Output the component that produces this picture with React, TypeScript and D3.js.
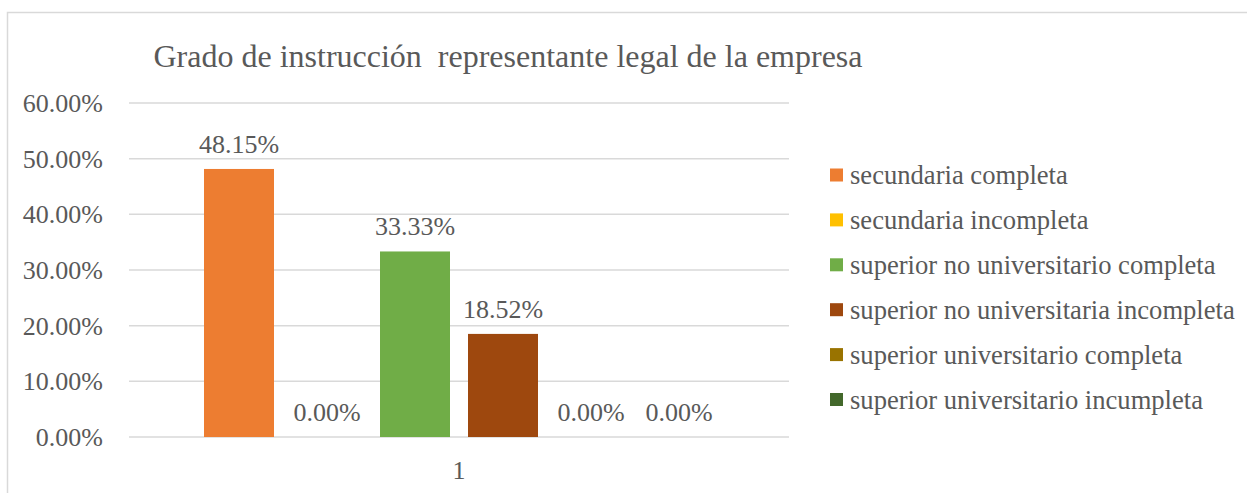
import React, { useEffect, useRef } from "react";
import * as d3 from "d3";

const categories = ["1"];
const seriesNames = [
  "secundaria completa",
  "secundaria incompleta",
  "superior no universitario completa",
  "superior no universitaria incompleta",
  "superior universitario completa",
  "superior universitario incumpleta",
];
const seriesValues = [0.4815, 0.0, 0.3333, 0.1852, 0.0, 0.0];
const seriesColors = ["#ED7D31", "#FFC000", "#70AD47", "#9E480E", "#997300", "#43682B"];
const yTicks = [0, 0.1, 0.2, 0.3, 0.4, 0.5, 0.6];
const title = "Grado de instrucción  representante legal de la empresa";

const W = 1247;
const H = 493;
const FONT = "'Liberation Serif', 'Times New Roman', serif";
const TEXT = "#595959";

export default function App() {
  const ref = useRef<SVGSVGElement>(null);

  useEffect(() => {
    const svg = d3.select(ref.current);
    svg.selectAll("*").remove();

    svg.append("rect")
      .attr("x", 7.5).attr("y", 12.5)
      .attr("width", W + 20).attr("height", H + 20)
      .attr("fill", "#fff").attr("stroke", "#D9D9D9").attr("stroke-width", 1.5);

    const plotL = 129, plotR = 789, plotT = 103, plotB = 437;
    const y = d3.scaleLinear().domain([0, 0.6]).range([plotB, plotT]);
    const x0 = d3.scaleBand().domain(categories).range([plotL, plotR]).paddingInner(0).paddingOuter(0);
    const inner = 66;
    const x1 = d3.scaleBand().domain(seriesNames)
      .range([0 + inner, x0.bandwidth() - inner])
      .paddingInner(18 / 88).paddingOuter(9 / 88);

    svg.append("text")
      .attr("x", 508).attr("y", 67)
      .attr("text-anchor", "middle")
      .style("font-family", FONT).attr("font-size", 32)
      .attr("fill", TEXT)
      .style("white-space", "pre")
      .text(title);

    const g = svg.append("g");
    g.selectAll("line.grid").data(yTicks).join("line")
      .attr("x1", plotL).attr("x2", plotR)
      .attr("y1", (d) => y(d)).attr("y2", (d) => y(d))
      .attr("stroke", "#D9D9D9").attr("stroke-width", 1.5);

    g.selectAll("text.ytick").data(yTicks).join("text")
      .attr("x", 103).attr("y", (d) => y(d))
      .attr("dy", "0.35em")
      .attr("text-anchor", "end")
      .style("font-family", FONT).attr("font-size", 26)
      .attr("fill", TEXT)
      .text((d) => d3.format(".2%")(d));

    categories.forEach((cat) => {
      const gx = x0(cat)!;
      seriesNames.forEach((s, i) => {
        const v = seriesValues[i];
        const bx = gx + x1(s)!;
        g.append("rect")
          .attr("x", bx).attr("y", y(v))
          .attr("width", x1.bandwidth()).attr("height", plotB - y(v))
          .attr("fill", seriesColors[i]);
        g.append("text")
          .attr("x", bx + x1.bandwidth() / 2).attr("y", y(v) - 16)
          .attr("text-anchor", "middle")
          .style("font-family", FONT).attr("font-size", 26)
          .attr("fill", TEXT)
          .text(d3.format(".2%")(v));
      });
      g.append("text")
        .attr("x", gx + x0.bandwidth() / 2).attr("y", 479)
        .attr("text-anchor", "middle")
        .style("font-family", FONT).attr("font-size", 26)
        .attr("fill", TEXT)
        .text(cat);
    });

    const lg = svg.append("g");
    seriesNames.forEach((s, i) => {
      const cy = 175 + i * 44.9;
      lg.append("rect")
        .attr("x", 830).attr("y", cy - 6.5)
        .attr("width", 13).attr("height", 13)
        .attr("fill", seriesColors[i]);
      lg.append("text")
        .attr("x", 850).attr("y", cy).attr("dy", "0.35em")
        .style("font-family", FONT).attr("font-size", 26.6)
        .attr("fill", TEXT)
        .text(s);
    });
  }, []);

  return (
    <svg ref={ref} width={W} height={H}
      style={{ position: "absolute", left: 0, top: 0, background: "#fff" }} />
  );
}
